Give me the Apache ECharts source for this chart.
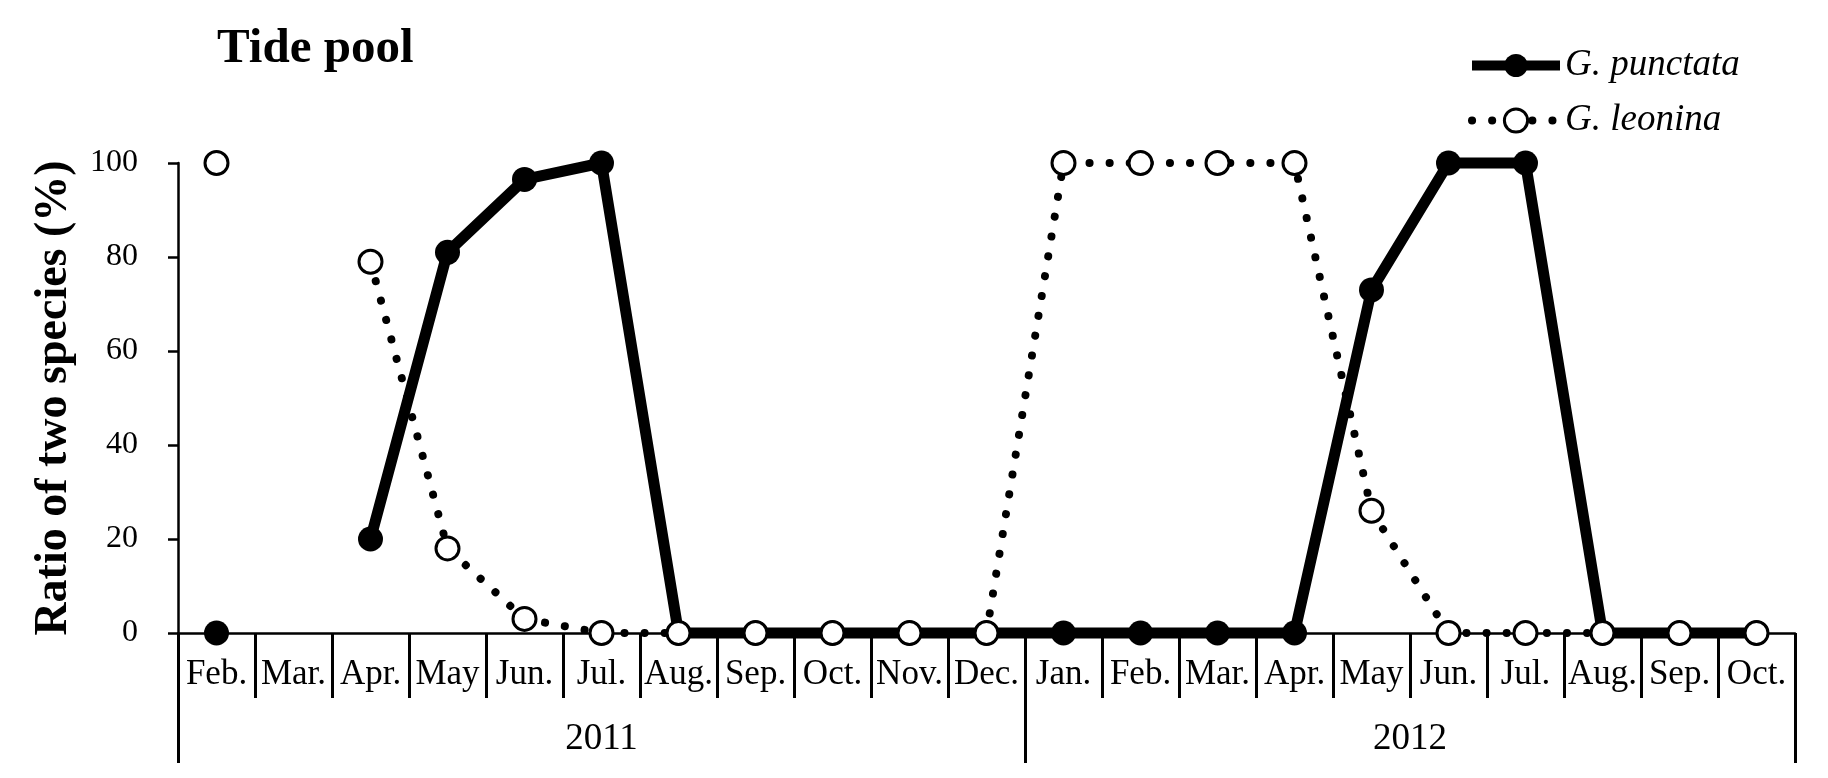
<!DOCTYPE html>
<html><head><meta charset="utf-8">
<script src="https://cdn.jsdelivr.net/npm/echarts@6/dist/echarts.min.js"></script>
<style>html,body{margin:0;padding:0;background:#fff}#c{width:1828px;height:778px}</style>
</head><body><div id="c"></div>
<script>
const months = ['Feb.','Mar.','Apr.','May','Jun.','Jul.','Aug.','Sep.','Oct.','Nov.','Dec.','Jan.','Feb.','Mar.','Apr.','May','Jun.','Jul.','Aug.','Sep.','Oct.'];
const years = ['2011', '2012'];
const yearBounds = [0, 11, 21];
const yearCenters = [5.5, 16];
const punctata = [0, null, 20, 81, 96.5, 100, 0, 0, 0, 0, 0, 0, 0, 0, 0, 73, 100, 100, 0, 0, 0];
const leonina = [100, null, 79, 18, 3, 0, 0, 0, 0, 0, 0, 100, 100, 100, 100, 26, 0, 0, 0, 0, 0];

const FONT = '"Liberation Serif", "Times New Roman", serif';
const DOTS = [0.1, 20];
const chart = echarts.init(document.getElementById('c'), null, {renderer: 'canvas'});
chart.setOption({
  animation: false,
  backgroundColor: '#fff',
  title: {
    text: 'Tide pool', left: 212, top: 20,
    textStyle: {fontFamily: FONT, fontWeight: 'bold', fontSize: 49, color: '#000'}
  },
  legend: {
    orient: 'vertical', left: 1462, top: 42,
    itemWidth: 88, itemHeight: 29, itemGap: 18,
    textStyle: {fontFamily: FONT, fontStyle: 'italic', fontSize: 37, color: '#000'},
    data: [
      {name: 'G. punctata', lineStyle: {width: 10, color: '#000'}, itemStyle: {color: '#000'}},
      {name: 'G. leonina', lineStyle: {width: 8, color: '#000', type: DOTS, cap: 'round'},
        itemStyle: {color: '#fff', borderColor: '#000', borderWidth: 3}}
    ]
  },
  grid: {left: 178, right: 33, top: 163, bottom: 145, containLabel: false},
  xAxis: [{
    type: 'category', data: months, boundaryGap: true,
    axisLine: {show: true, onZero: false, lineStyle: {color: '#000', width: 2.5}},
    axisTick: {show: true, interval: 0, length: 65, lineStyle: {color: '#000', width: 3}},
    axisLabel: {interval: 0, margin: 24, fontFamily: FONT, fontSize: 35, color: '#000'},
    splitLine: {show: false}
  }, {
    type: 'value', min: 0, max: 21, position: 'bottom',
    axisLine: {show: false},
    axisTick: {show: true, customValues: yearBounds, length: 130, lineStyle: {color: '#000', width: 3}},
    axisLabel: {show: true, customValues: yearCenters, margin: 88, fontFamily: FONT, fontSize: 37, color: '#000',
      formatter: v => years[yearCenters.indexOf(v)]},
    splitLine: {show: false}
  }],
  yAxis: {
    type: 'value', min: 0, max: 100, interval: 20,
    name: 'Ratio of two species (%)', nameLocation: 'middle', nameGap: 101,
    nameTextStyle: {fontFamily: FONT, fontWeight: 'bold', fontSize: 46, color: '#000'},
    axisLine: {show: true, lineStyle: {color: '#000', width: 2.5}},
    axisTick: {show: true, length: 10, lineStyle: {color: '#000', width: 2.5}},
    axisLabel: {margin: 40, fontFamily: FONT, fontSize: 32, color: '#000'},
    splitLine: {show: false}
  },
  series: [{
    name: 'G. punctata', type: 'line', data: punctata, clip: false,
    symbol: 'circle', symbolSize: 25, z: 2,
    lineStyle: {color: '#000', width: 11},
    itemStyle: {color: '#000'},
    emphasis: {disabled: true}
  }, {
    name: 'G. leonina', type: 'line', data: leonina, clip: false,
    symbol: 'circle', symbolSize: 23, z: 3,
    lineStyle: {color: '#000', width: 8, type: DOTS, cap: 'round'},
    itemStyle: {color: '#fff', borderColor: '#000', borderWidth: 3},
    emphasis: {disabled: true}
  }]
});
</script></body></html>
